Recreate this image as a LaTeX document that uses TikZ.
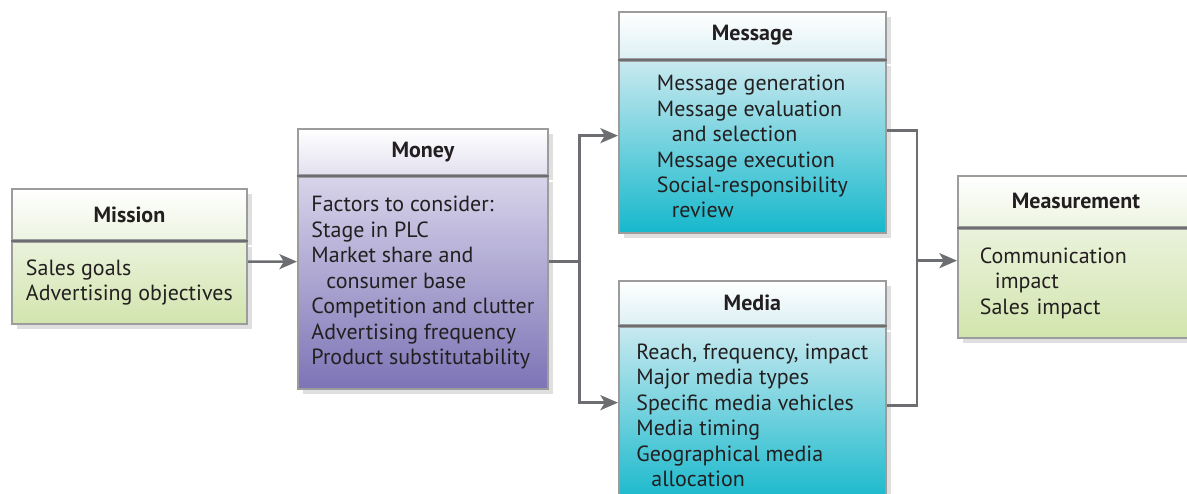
\documentclass[tikz,border=0pt]{standalone}
\usepackage{fontspec}
\setmainfont{PT Sans}
\usetikzlibrary{positioning, arrows.meta, shadows}
\definecolor{line-grey}{HTML}{6D6E71}
\definecolor{box-edge}{HTML}{9C9C9C}
\definecolor{text-dark}{HTML}{231F20}
\definecolor{green-head}{HTML}{EDF4E1}
\definecolor{green-top}{HTML}{EAF2DB}
\definecolor{green-bot}{HTML}{D2E5AE}
\definecolor{violet-head}{HTML}{E3E0EF}
\definecolor{violet-top}{HTML}{D8D4EA}
\definecolor{violet-bot}{HTML}{7C74B6}
\definecolor{cyan-head}{HTML}{DDF0F4}
\definecolor{cyan-top}{HTML}{C9E9EF}
\definecolor{cyan-bot}{HTML}{16B8CC}
\newcommand{\ind}{\hspace*{0.3cm}}

\begin{document}
\begin{tikzpicture}[
      every node/.style={font=\fontsize{12.5}{14.5}\selectfont, text=text-dark},
      head/.style={draw=box-edge, line width=1pt, anchor=north west, inner sep=0pt,
          font=\fontsize{12.5}{14.5}\selectfont\bfseries,
          drop shadow={shadow xshift=3pt, shadow yshift=-3pt, opacity=0.25}},
      body/.style={draw=box-edge, line width=1pt, inner sep=0pt, align=left,
          drop shadow={shadow xshift=3pt, shadow yshift=-3pt, opacity=0.25}},
      divider/.style={line-grey, line width=1pt},
      flow/.style={line-grey, line width=1.5pt},
      flowarrow/.style={flow, -{Stealth[length=10pt, width=8.5pt, inset=2.5pt]}}]
    \useasboundingbox (0,0) rectangle (23.74,-9.86);

    % Mission
    \node[head, top color=white, bottom color=green-head,
          minimum width=4.7cm, minimum height=1.02cm]
          (mis-head) at (0.22,-3.76) {Mission};
    \node[body, top color=green-top, bottom color=green-bot,
          minimum width=4.7cm, minimum height=1.64cm, below=0pt of mis-head]
          (mis-body) {Sales goals\\Advertising objectives};
    \draw[divider] (mis-head.south west) -- (mis-head.south east);

    % Money
    \node[head, top color=white, bottom color=violet-head,
          minimum width=5.0cm, minimum height=0.92cm]
          (mon-head) at (5.94,-2.56) {Money};
    \node[body, top color=violet-top, bottom color=violet-bot,
          minimum width=5.0cm, minimum height=4.24cm, below=0pt of mon-head]
          (mon-body) {Factors to consider:\\Stage in PLC\\Market share and\\
          \ind consumer base\\Competition and clutter\\Advertising frequency\\
          Product substitutability};
    \draw[divider] (mon-head.south west) -- (mon-head.south east);

    % Message
    \node[head, top color=white, bottom color=cyan-head,
          minimum width=5.34cm, minimum height=0.94cm]
          (msg-head) at (12.36,-0.22) {Message};
    \node[body, top color=cyan-top, bottom color=cyan-bot,
          minimum width=5.34cm, minimum height=3.44cm, below=0pt of msg-head]
          (msg-body) {Message generation\\Message evaluation\\\ind and selection\\
          Message execution\\Social-responsibility\\\ind review};
    \draw[divider] (msg-head.south west) -- (msg-head.south east);

    % Media
    \node[head, top color=white, bottom color=cyan-head,
          minimum width=5.34cm, minimum height=0.88cm]
          (med-head) at (12.36,-5.60) {Media};
    \node[body, top color=cyan-top, bottom color=cyan-bot,
          minimum width=5.34cm, minimum height=3.54cm, below=0pt of med-head]
          (med-body) {Reach, frequency, impact\\Major media types\\
          Specific media vehicles\\Media timing\\Geographical media\\
          \ind allocation};
    \draw[divider] (med-head.south west) -- (med-head.south east);

    % Measurement
    \node[head, top color=white, bottom color=green-head,
          minimum width=4.72cm, minimum height=1.02cm]
          (mea-head) at (19.14,-3.50) {Measurement};
    \node[body, top color=green-top, bottom color=green-bot, text width=3.84cm,
          inner xsep=0.44cm, minimum height=2.18cm, below=0pt of mea-head]
          (mea-body) {Communication\\\ind impact\\Sales impact};
    \draw[divider] (mea-head.south west) -- (mea-head.south east);

    % connectors
    \coordinate (split) at ([xshift=0.62cm, yshift=0.42cm]mon-body.east);
    \coordinate (join) at ([xshift=-0.8cm, yshift=0.45cm]mea-body.west);
    \draw[flowarrow] ([yshift=0.42cm]mis-body.east) -- ([yshift=0.42cm]mon-body.west);
    \draw[flow] ([yshift=0.42cm]mon-body.east) -- (split);
    \draw[flowarrow] (split) |- ([yshift=0.22cm]msg-body.west);
    \draw[flowarrow] (split) |- ([yshift=0.25cm]med-body.west);
    \draw[flow] ([yshift=0.32cm]msg-body.east) -| (join);
    \draw[flow] ([yshift=0.19cm]med-body.east) -| (join);
    \draw[flowarrow] (join) -- ([yshift=0.45cm]mea-body.west);
  \end{tikzpicture}
\end{document}
